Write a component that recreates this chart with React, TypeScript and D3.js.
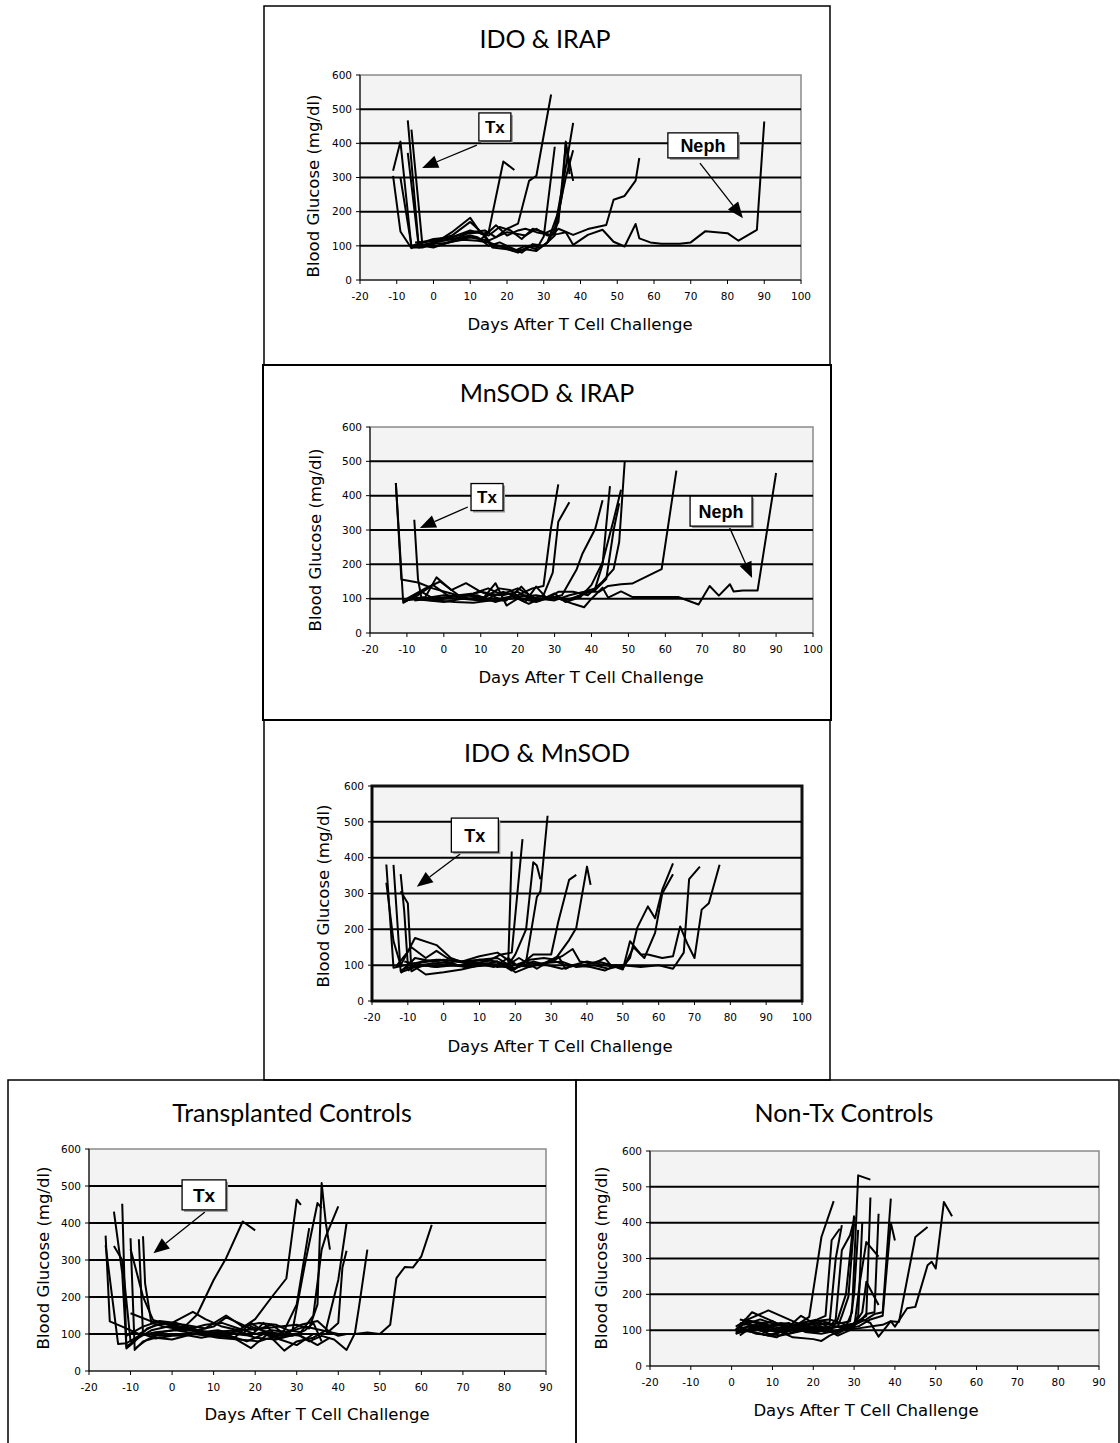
import React from 'react';
import * as d3 from 'd3';

type Pt = [number, number];

// ---- tick values ----
const yTicks = [0, 100, 200, 300, 400, 500, 600];
const gridValues = [100, 200, 300, 400, 500];
const xTicksTo100 = [-20, -10, 0, 10, 20, 30, 40, 50, 60, 70, 80, 90, 100];
const xTicksTo90 = [-20, -10, 0, 10, 20, 30, 40, 50, 60, 70, 80, 90];

// ---- blood glucose per mouse, [day, mg/dl] ----
const idoIrapMice: Pt[][] = [
  [[-11, 320], [-9, 405], [-6, 95], [-3, 95], [0, 105], [5, 140], [10, 182], [13, 135], [15, 140], [19, 347], [22, 322]],
  [[-11, 305], [-9, 142], [-6, 93], [-3, 110], [0, 120], [5, 125], [10, 140], [14, 145], [17, 125], [20, 150], [23, 165], [26, 290], [28, 305], [32, 543]],
  [[-9, 300], [-6, 100], [-3, 110], [0, 115], [5, 130], [10, 170], [14, 130], [16, 100], [20, 95], [22, 85], [25, 100], [28, 90], [30, 127], [33, 390]],
  [[-7, 467], [-4, 98], [-2, 100], [0, 110], [5, 120], [10, 130], [12, 125], [15, 100], [18, 110], [22, 90], [24, 80], [27, 105], [30, 100], [33, 130], [35, 250], [36, 405], [37, 310]],
  [[-7, 372], [-4, 95], [-2, 100], [1, 100], [6, 115], [10, 125], [13, 120], [17, 160], [20, 130], [23, 145], [25, 150], [28, 140], [30, 135], [33, 150], [36, 330], [38, 460]],
  [[-6, 440], [-3, 100], [0, 95], [4, 110], [9, 135], [13, 140], [16, 95], [20, 90], [23, 80], [26, 100], [29, 95], [31, 110], [34, 200], [36, 300], [38, 380]],
  [[-5, 100], [-1, 105], [3, 108], [8, 118], [12, 115], [15, 110], [18, 100], [22, 85], [25, 90], [28, 85], [31, 110], [34, 170], [36, 400], [38, 290]],
  [[-5, 110], [0, 115], [5, 125], [10, 145], [15, 130], [18, 155], [21, 145], [24, 120], [27, 150], [30, 140], [32, 130], [34, 150], [38, 132], [42, 149], [47, 161], [49, 235], [52, 246], [55, 291], [56, 357]],
  [[-4, 100], [0, 110], [5, 120], [10, 125], [15, 115], [20, 140], [25, 130], [28, 150], [31, 130], [34, 135], [36, 140], [38, 103], [42, 132], [46, 147], [49, 112], [52, 98], [55, 164], [56, 122], [59, 110], [62, 106], [67, 106], [70, 110], [74, 143], [80, 137], [83, 115], [88, 147], [90, 464]],
];

const mnsodIrapMice: Pt[][] = [
  [[-13, 437], [-11, 88], [-9, 100], [-5, 105], [-2, 162], [2, 125], [6, 145], [10, 120], [15, 100], [20, 110], [24, 130], [27, 137], [29, 304], [31, 433]],
  [[-13, 437], [-11.5, 156], [-7, 147], [-3, 130], [2, 115], [7, 100], [12, 95], [17, 95], [21, 135], [24, 100], [27, 110], [29.5, 176], [31, 324], [34, 381]],
  [[-8, 330], [-7, 157], [-6, 98], [-3, 95], [0, 100], [4, 110], [8, 115], [12, 130], [16, 110], [20, 120], [24, 95], [28, 100], [32, 110], [36, 186], [37.5, 230], [41, 303], [43, 387]],
  [[-11, 90], [-7, 110], [-3, 140], [1, 110], [6, 100], [11, 105], [14, 145], [17, 80], [20, 100], [23, 85], [26, 100], [30, 95], [34, 110], [38, 120], [41, 130], [43, 200], [45, 428]],
  [[-10, 95], [-6, 120], [-2, 95], [3, 90], [8, 88], [13, 95], [18, 100], [22, 110], [26, 95], [30, 115], [33, 90], [37, 105], [40, 140], [43, 206], [46, 330], [48, 417]],
  [[-9, 100], [-4, 95], [0, 90], [5, 100], [10, 95], [15, 130], [18, 125], [21, 100], [25, 90], [29, 105], [33, 95], [37, 110], [41, 125], [44, 157], [46, 300], [47.5, 378]],
  [[-10, 100], [-5, 130], [-1, 150], [4, 110], [9, 110], [14, 90], [19, 110], [22, 90], [25, 135], [28, 100], [31, 120], [35, 120], [39, 110], [43, 150], [46, 186], [47.5, 265], [49, 500]],
  [[-8, 95], [-4, 100], [1, 105], [6, 110], [12, 100], [16, 120], [20, 105], [25, 110], [30, 100], [35, 100], [39, 120], [42, 120], [44.5, 137], [48, 142], [51, 144], [59, 186], [63, 473]],
  [[-11, 95], [-6, 100], [0, 110], [5, 105], [10, 120], [15, 110], [20, 130], [25, 100], [30, 105], [35, 85], [38, 75], [40, 100], [43, 132], [44.5, 103], [48, 121], [51, 105], [63.5, 105], [69, 83], [72, 137], [74.5, 109], [77.5, 142], [78.5, 121], [81, 124], [85, 124], [90, 466]],
];

const idoMnsodMice: Pt[][] = [
  [[-16, 381], [-14, 93], [-11, 100], [-8, 105], [-4, 110], [0, 115], [5, 110], [10, 115], [15, 110], [18, 100], [19, 417]],
  [[-14, 380], [-12, 83], [-10, 100], [-6, 110], [-2, 115], [2, 112], [7, 105], [12, 110], [16, 130], [19, 135], [22, 452]],
  [[-12, 354], [-11, 250], [-10, 100], [-7, 95], [-3, 105], [1, 100], [6, 100], [11, 105], [15, 95], [18, 100], [20, 130], [23, 200], [25, 387], [26, 378], [27, 340]],
  [[-12, 306], [-10, 273], [-9, 83], [-6, 100], [-2, 95], [3, 100], [8, 100], [12, 105], [16, 100], [20, 90], [23, 110], [26, 290], [27, 306], [29, 517]],
  [[-16, 330], [-14, 167], [-12, 100], [-8, 176], [-2, 156], [2, 120], [6, 105], [10, 115], [15, 120], [20, 90], [25, 130], [30, 130], [32, 222], [35, 338], [37, 352]],
  [[-13, 100], [-9, 150], [-5, 120], [-2, 140], [1, 120], [5, 110], [10, 125], [15, 135], [20, 100], [24, 115], [28, 120], [31, 115], [35, 170], [37, 204], [40, 375], [41, 324]],
  [[-12, 80], [-8, 95], [-5, 74], [0, 80], [5, 88], [10, 100], [15, 110], [19, 85], [23, 110], [27, 100], [32, 125], [34, 90], [36, 100], [40, 110], [45, 100], [48, 95], [50, 88], [52, 167], [55, 130], [57, 130], [61, 120], [64, 125], [66, 208], [68, 160], [70, 120], [72, 255], [74, 273], [77, 380]],
  [[-11, 90], [-7, 100], [-3, 105], [2, 100], [7, 95], [12, 100], [17, 105], [20, 80], [25, 100], [30, 110], [33, 125], [36, 145], [38, 110], [42, 105], [45, 120], [47, 95], [50, 95], [52, 120], [54, 204], [57, 264], [59, 231], [61, 310], [64, 384]],
  [[-10, 85], [-6, 110], [-1, 115], [4, 100], [9, 105], [14, 95], [18, 120], [21, 95], [25, 110], [29, 100], [33, 90], [37, 100], [41, 95], [45, 85], [48, 100], [50, 90], [53, 150], [56, 120], [59, 190], [61, 300], [64, 354]],
  [[-12, 78], [-8, 120], [-3, 110], [2, 105], [6, 95], [11, 100], [16, 100], [20, 100], [24, 95], [28, 105], [33, 110], [37, 95], [42, 100], [46, 90], [50, 100], [55, 95], [60, 100], [64, 90], [67, 135], [68.5, 340], [71.5, 375]],
  [[-11, 110], [-6, 100], [-2, 95], [3, 110], [8, 110], [13, 100], [17, 95], [21, 120], [26, 90], [30, 115], [34, 100], [39, 100], [43, 110], [47, 100], [50, 100]],
];

const txControlMice: Pt[][] = [
  [[-16, 366], [-15, 134], [-12, 120], [-8, 100], [-4, 125], [0, 130], [5, 160], [8, 140], [12, 120], [16, 110], [20, 140], [24, 200], [27.5, 250], [30, 463], [31, 449]],
  [[-16, 340], [-13, 73], [-11, 75], [-8, 95], [-4, 105], [1, 110], [6, 100], [11, 90], [16, 85], [21, 80], [25, 95], [27, 110], [30, 180], [33, 386]],
  [[-14, 431], [-12, 264], [-11, 66], [-8, 90], [-5, 110], [-1, 120], [4, 115], [9, 105], [14, 95], [19, 62], [23, 100], [26, 90], [29, 110], [32, 290], [35, 454], [36, 440]],
  [[-14, 338], [-12, 300], [-10, 80], [-7, 100], [-3, 95], [2, 100], [7, 90], [12, 100], [17, 110], [22, 115], [26, 120], [30, 125], [33, 115], [35, 180], [36, 508], [37, 400], [38, 328]],
  [[-12, 452], [-11, 61], [-9, 80], [-6, 115], [-2, 130], [3, 125], [8, 115], [13, 150], [17, 120], [21, 130], [25, 125], [28, 110], [31, 105], [34, 150], [36, 328], [37, 364], [40, 445]],
  [[-10, 359], [-9, 57], [-7, 80], [-4, 90], [0, 85], [5, 100], [10, 95], [15, 90], [19, 130], [23, 100], [27, 55], [30, 80], [34, 90], [37, 110], [40, 246], [42, 400]],
  [[-10, 330], [-7, 201], [-4.6, 138], [-1, 125], [4, 110], [9, 100], [14, 95], [18, 80], [22, 100], [26, 85], [30, 70], [34, 100], [37, 100], [40, 130], [41, 280], [42, 325]],
  [[-8, 356], [-7, 100], [-4, 88], [0, 95], [5, 100], [10, 105], [15, 110], [20, 90], [25, 85], [30, 100], [33, 80], [36, 95], [39, 85], [42, 57], [44, 102], [45, 174], [47, 328]],
  [[-7, 364], [-6.5, 237], [-5, 130], [-2, 120], [3, 110], [8, 125], [12, 130], [16, 115], [20, 100], [24, 110], [28, 105], [32, 120], [36, 110], [40, 100], [44, 100], [47, 104], [50, 100], [52.5, 125], [54, 251], [56, 281], [58, 280], [60, 310], [62.5, 395]],
  [[-10, 156], [-5, 134], [0, 125], [6, 110], [10, 120], [13, 145], [16, 130], [20, 110], [24, 125], [27, 100], [31, 125], [35, 135], [38, 105], [40, 95], [42, 100]],
  [[-9, 100], [-5, 100], [0, 110], [3, 120], [6, 152], [10, 246], [13, 305], [17, 404], [20, 380]],
  [[-11, 95], [-7, 120], [-3, 135], [1, 130], [5, 115], [9, 100], [13, 105], [17, 100], [19, 120], [23, 105], [27, 100], [31, 95], [35, 70], [38, 90]],
  [[-9, 60], [-6, 85], [-3, 100], [2, 95], [7, 105], [11, 110], [15, 100], [19, 95], [22, 130], [25, 95], [29, 95], [32, 110], [34, 130], [36, 80]],
];

const nonTxControlMice: Pt[][] = [
  [[1, 90], [4, 100], [8, 110], [12, 120], [16, 115], [19, 137], [22, 360], [25, 460]],
  [[1, 100], [5, 150], [9, 130], [13, 110], [17, 120], [21, 130], [23, 140], [24.5, 351], [26.5, 383]],
  [[2, 120], [6, 110], [10, 125], [14, 100], [18, 110], [22, 125], [24, 120], [25.5, 300], [27, 393]],
  [[2, 85], [5, 110], [9, 90], [12, 85], [16, 95], [20, 105], [24, 110], [25.5, 130], [27, 323], [29, 365], [30.2, 416]],
  [[1, 110], [4, 130], [9, 155], [14, 130], [18, 110], [22, 100], [26, 110], [27, 140], [28.6, 193], [30, 397]],
  [[3, 130], [7, 120], [11, 100], [15, 80], [20, 75], [22, 70], [24, 85], [26, 95], [28, 110], [29.5, 150], [31, 532], [34, 520]],
  [[1, 105], [5, 95], [9, 85], [13, 100], [17, 140], [20, 120], [23, 115], [27, 120], [29, 125], [30, 200], [31, 380]],
  [[2, 110], [6, 90], [10, 85], [14, 105], [18, 120], [22, 110], [26, 85], [29, 100], [31, 140], [32, 400]],
  [[3, 115], [7, 130], [11, 115], [15, 110], [19, 100], [23, 105], [27, 110], [30, 105], [31.5, 240], [33, 346], [36, 305]],
  [[2, 95], [6, 100], [10, 110], [14, 120], [18, 95], [22, 90], [26, 100], [30, 115], [32, 150], [33, 235], [36, 170]],
  [[1, 100], [4, 125], [8, 120], [12, 95], [16, 100], [20, 125], [24, 130], [28, 115], [31, 120], [33, 145], [35, 150], [36, 425]],
  [[2, 105], [6, 115], [10, 100], [14, 90], [18, 105], [22, 100], [26, 110], [30, 115], [33, 130], [35, 145], [37, 150], [39, 467]],
  [[1, 95], [5, 105], [9, 110], [13, 115], [17, 100], [21, 95], [25, 110], [29, 105], [32, 130], [34, 120], [36, 82], [39, 125], [40, 110], [43, 161], [45, 165], [48, 281], [49, 291], [50, 272], [52, 458], [54, 418]],
  [[3, 100], [7, 90], [11, 80], [15, 105], [19, 110], [23, 95], [27, 100], [31, 105], [34, 110], [37, 115], [39, 125], [41, 123], [45, 360], [48, 388]],
  [[2, 130], [6, 120], [10, 105], [14, 110], [18, 115], [22, 120], [26, 90], [29, 110], [31, 125], [33, 140], [34, 470]],
  [[1, 90], [4, 110], [8, 95], [12, 105], [16, 100], [20, 110], [24, 95], [26, 130], [28, 200], [30, 420]],
  [[3, 125], [7, 105], [11, 95], [15, 115], [19, 105], [23, 120], [27, 105], [31, 110], [34, 130], [37, 140], [39, 400], [40, 350]],
];

// ---- layout (pixels) ----
type Note = { label: string; at: Pt; w: number; h: number; size: number; from: Pt; to: Pt };
type Layout = {
  title: string;
  frame: { x: number; y: number; w: number; h: number };
  plot: { x: number; y: number; w: number; h: number };
  xTicks: number[];
  titlePos: [number, number];
  xTitlePos: [number, number];
  yTitlePos: [number, number];
  border: string;
  borderW: number;
  frameW: number;
  notes: Note[];
};

const panels: { layout: Layout; mice: Pt[][] }[] = [
  {
    mice: idoIrapMice,
    layout: {
      title: 'IDO & IRAP',
      frame: { x: 264, y: 6, w: 566, h: 359 },
      plot: { x: 360, y: 75, w: 441, h: 205 },
      xTicks: xTicksTo100,
      titlePos: [545, 48], xTitlePos: [580, 330], yTitlePos: [313, 186],
      border: '#8a8a8a', borderW: 1.5, frameW: 1.5,
      notes: [
        { label: 'Tx', at: [16.7, 448], w: 32, h: 28, size: 17, from: [11.8, 395], to: [-3.1, 328] },
        { label: 'Neph', at: [73.3, 394], w: 70, h: 25, size: 18, from: [72.5, 342], to: [84.2, 181] },
      ],
    },
  },
  {
    mice: mnsodIrapMice,
    layout: {
      title: 'MnSOD & IRAP',
      frame: { x: 263, y: 365, w: 568, h: 355 },
      plot: { x: 370, y: 427, w: 443, h: 206 },
      xTicks: xTicksTo100,
      titlePos: [547, 402], xTitlePos: [591, 683], yTitlePos: [315, 540],
      border: '#8a8a8a', borderW: 1.5, frameW: 2,
      notes: [
        { label: 'Tx', at: [11.7, 396], w: 32, h: 27, size: 17, from: [6.5, 367], to: [-6.5, 306] },
        { label: 'Neph', at: [75.1, 355], w: 62, h: 30, size: 18, from: [77.2, 312], to: [83.5, 160] },
      ],
    },
  },
  {
    mice: idoMnsodMice,
    layout: {
      title: 'IDO & MnSOD',
      frame: { x: 264, y: 720, w: 566, h: 360 },
      plot: { x: 372, y: 786, w: 430, h: 215 },
      xTicks: xTicksTo100,
      titlePos: [547, 762], xTitlePos: [560, 1052], yTitlePos: [323, 896],
      border: '#111', borderW: 3, frameW: 1.5,
      notes: [
        { label: 'Tx', at: [8.7, 463], w: 47, h: 34, size: 18, from: [4.6, 410], to: [-7.5, 319] },
      ],
    },
  },
  {
    mice: txControlMice,
    layout: {
      title: 'Transplanted Controls',
      frame: { x: 8, y: 1080, w: 568, h: 380 },
      plot: { x: 89, y: 1149, w: 457, h: 222 },
      xTicks: xTicksTo90,
      titlePos: [292, 1122], xTitlePos: [317, 1420], yTitlePos: [43, 1258],
      border: '#8a8a8a', borderW: 1.5, frameW: 1.5,
      notes: [
        { label: 'Tx', at: [7.7, 476], w: 44, h: 30, size: 19, from: [7.9, 430], to: [-4.5, 318] },
      ],
    },
  },
  {
    mice: nonTxControlMice,
    layout: {
      title: 'Non-Tx Controls',
      frame: { x: 576, y: 1080, w: 543, h: 380 },
      plot: { x: 650, y: 1151, w: 449, h: 215 },
      xTicks: xTicksTo90,
      titlePos: [844, 1122], xTitlePos: [866, 1416], yTitlePos: [601, 1258],
      border: '#8a8a8a', borderW: 1.5, frameW: 1.5,
      notes: [],
    },
  },
];

const tickFont = "'DejaVu Sans', sans-serif";
const labelFont = "'DejaVu Sans', Verdana, sans-serif";
const titleFont = "Lato, sans-serif";
const noteFont = "'Liberation Sans', Arial, sans-serif";

function Panel({ layout, mice }: { layout: Layout; mice: Pt[][] }) {
  const { plot, frame } = layout;
  const xMax = layout.xTicks[layout.xTicks.length - 1];
  const x = d3.scaleLinear().domain([-20, xMax]).range([plot.x, plot.x + plot.w]);
  const y = d3.scaleLinear().domain([0, 600]).range([plot.y + plot.h, plot.y]);
  const line = d3.line<Pt>().x(d => x(d[0])).y(d => y(d[1]));
  const bottom = plot.y + plot.h;

  return (
    <g>
      <rect x={frame.x} y={frame.y} width={frame.w} height={frame.h} fill="none" stroke="#000" strokeWidth={layout.frameW} />
      <text x={layout.titlePos[0]} y={layout.titlePos[1]} textAnchor="middle" fontFamily={titleFont} fontSize={25}>
        {layout.title}
      </text>

      <rect x={plot.x} y={plot.y} width={plot.w} height={plot.h} fill="#f3f3f3" stroke={layout.border} strokeWidth={layout.borderW} />
      {gridValues.map(v => (
        <line key={v} x1={plot.x} x2={plot.x + plot.w} y1={y(v)} y2={y(v)} stroke="#000" strokeWidth={2} />
      ))}

      {/* axes */}
      <line x1={plot.x} x2={plot.x} y1={plot.y} y2={bottom} stroke="#000" strokeWidth={1} />
      <line x1={plot.x} x2={plot.x + plot.w} y1={bottom} y2={bottom} stroke="#000" strokeWidth={1} />
      {yTicks.map(v => (
        <g key={v}>
          <line x1={plot.x - 4} x2={plot.x} y1={y(v)} y2={y(v)} stroke="#000" strokeWidth={1} />
          <text x={plot.x - 8} y={y(v)} dy="0.35em" textAnchor="end" fontFamily={tickFont} fontSize={10.5}>{v}</text>
        </g>
      ))}
      {layout.xTicks.map(v => (
        <g key={v}>
          <line x1={x(v)} x2={x(v)} y1={bottom} y2={bottom + 4} stroke="#000" strokeWidth={1} />
          <text x={x(v)} y={bottom + 20} textAnchor="middle" fontFamily={tickFont} fontSize={10.5}>{v}</text>
        </g>
      ))}

      {/* one line per mouse */}
      {mice.map((m, i) => (
        <path key={i} d={line(m) || ''} fill="none" stroke="#000" strokeWidth={2} strokeLinejoin="round" />
      ))}

      {layout.notes.map(n => {
        const cx = x(n.at[0]);
        const cy = y(n.at[1]);
        const sx = x(n.from[0]);
        const sy = y(n.from[1]);
        const ex = x(n.to[0]);
        const ey = y(n.to[1]);
        const ang = Math.atan2(ey - sy, ex - sx);
        const hl = 16;
        const hw = 6.5;
        const bx = ex - hl * Math.cos(ang);
        const by = ey - hl * Math.sin(ang);
        const px = -Math.sin(ang) * hw;
        const py = Math.cos(ang) * hw;
        return (
          <g key={n.label}>
            <line x1={sx} y1={sy} x2={bx} y2={by} stroke="#000" strokeWidth={1.3} />
            <polygon points={`${ex},${ey} ${bx + px},${by + py} ${bx - px},${by - py}`} fill="#000" />
            <rect x={cx - n.w / 2 + 2} y={cy - n.h / 2 + 2} width={n.w} height={n.h} fill="#999" />
            <rect x={cx - n.w / 2} y={cy - n.h / 2} width={n.w} height={n.h} fill="#fff" stroke="#000" strokeWidth={1.3} />
            <text x={cx} y={cy} dy="0.36em" textAnchor="middle" fontFamily={noteFont} fontWeight="bold" fontSize={n.size}>{n.label}</text>
          </g>
        );
      })}

      <text x={layout.xTitlePos[0]} y={layout.xTitlePos[1]} textAnchor="middle" fontFamily={labelFont} fontSize={16.5}>
        Days After T Cell Challenge
      </text>
      <text
        transform={`translate(${layout.yTitlePos[0]},${layout.yTitlePos[1]}) rotate(-90)`}
        dy="0.35em"
        textAnchor="middle"
        fontFamily={labelFont}
        fontSize={16.5}
      >
        Blood Glucose (mg/dl)
      </text>
    </g>
  );
}

export default function App() {
  return (
    <svg
      width={1120}
      height={1443}
      viewBox="0 0 1120 1443"
      style={{ position: 'absolute', left: 0, top: 0, background: '#fff' }}
    >
      <rect width={1120} height={1443} fill="#fff" />
      {panels.map(p => (
        <Panel key={p.layout.title} layout={p.layout} mice={p.mice} />
      ))}
    </svg>
  );
}
